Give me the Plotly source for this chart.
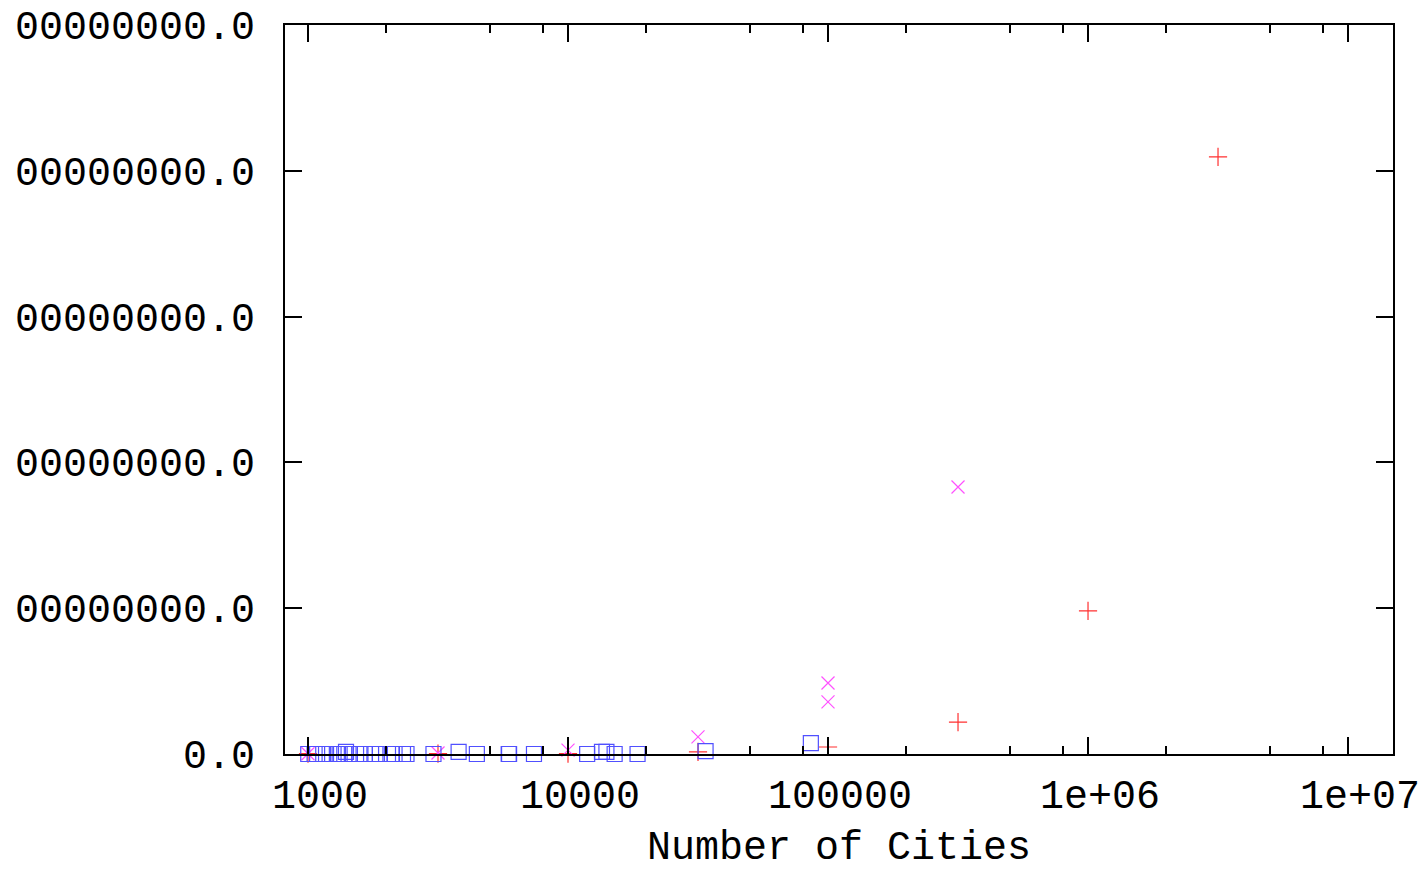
import plotly.graph_objects as go

# ---- data ----
# red "+" series
red_x = [1000, 3162, 10000, 31623, 100000, 316228, 1000000, 3162278]
red_y = [0.2, 0.3, 0.3, 1.4, 4.8, 21.9, 98.1, 409.5]

# magenta "x" series
mag_x = [1000, 3162, 10000, 31623, 100000, 100000, 316228]
mag_y = [0.2, 0.7, 2.7, 11.7, 35.7, 48.7, 183.1]

# blue squares (TSPLIB-like instances)
blue_x = [1002, 1060, 1084, 1173, 1291, 1304, 1323, 1379, 1400, 1432, 1577, 1655,
          1748, 1817, 1889, 2103, 2152, 2319, 2392, 3038, 3795, 4461, 5915, 5934,
          7397, 11849, 13509, 14051, 15112, 18512, 33810, 85900]
blue_y = [0.0, 0.0, 0.0, 0.0, 0.0, 0.0, 0.0, 0.0, 1.5, 0.0, 0.0, 0.0,
          0.0, 0.0, 0.0, 0.0, 0.0, 0.0, 0.0, 0.0, 1.4, 0.0, 0.0, 0.0,
          0.0, 0.0, 1.4, 1.4, 0.0, 0.0, 2.0, 7.5]

x_major = [1e3, 1e4, 1e5, 1e6, 1e7]
x_major_text = ["1000", "10000", "100000", "1e+06", "1e+07"]
x_minor = [m * 10 ** k for k in range(2, 8) for m in (2, 5, 8)]
y_ticks = [0, 100, 200, 300, 400, 500]
y_tick_text = ["0.0", "00000000.0", "00000000.0", "00000000.0", "00000000.0", "00000000.0"]
x_title = "Number of Cities"

FONT = "Liberation Mono"
NB = "\u00a0"
RED, MAG, BLUE = "#ff3030", "#ff50ff", "#5050ff"

fig = go.Figure()
fig.add_trace(go.Scatter(x=red_x, y=red_y, mode="markers", cliponaxis=False,
                         marker=dict(symbol="cross-thin-open", size=13, color=RED,
                                     line=dict(color=RED, width=1.2))))
fig.add_trace(go.Scatter(x=mag_x, y=mag_y, mode="markers", cliponaxis=False,
                         marker=dict(symbol="x-thin-open", size=13, color=MAG,
                                     line=dict(color=MAG, width=1.2))))
fig.add_trace(go.Scatter(x=blue_x, y=blue_y, mode="markers", cliponaxis=False,
                         marker=dict(symbol="square-open", size=15, color=BLUE,
                                     line=dict(color=BLUE, width=1.2))))

fig.update_layout(
    width=1419, height=870,
    margin=dict(l=285, r=26, t=25, b=116),
    paper_bgcolor="white", plot_bgcolor="white",
    showlegend=False,
    font=dict(family=FONT, size=40, color="black"),
    xaxis=dict(
        type="log", range=[2.9115, 7.173], automargin=False,
        tickmode="array", tickvals=x_major,
        ticktext=[NB + t for t in x_major_text],
        ticks="inside", ticklen=17, tickwidth=2, tickcolor="black",
        showline=True, linecolor="black", linewidth=2, mirror="allticks",
        showgrid=False, zeroline=False, ticklabeloverflow="allow",
        minor=dict(tickmode="array", tickvals=x_minor, ticks="inside",
                   ticklen=8, tickwidth=2, tickcolor="black", showgrid=False),
        tickfont=dict(family=FONT, size=40, color="black"),
        ticklabelstandoff=4,
    ),
    yaxis=dict(
        range=[0, 500], automargin=False,
        tickmode="array", tickvals=y_ticks, ticktext=y_tick_text,
        ticks="inside", ticklen=17, tickwidth=2, tickcolor="black",
        showline=True, linecolor="black", linewidth=2, mirror="allticks",
        showgrid=False, zeroline=False, ticklabeloverflow="allow",
        tickfont=dict(family=FONT, size=40, color="black"),
        ticklabelstandoff=20,
    ),
    annotations=[dict(
        text=x_title, xref="paper", yref="paper", x=0.5, y=-95 / 729,
        xanchor="center", yanchor="middle", showarrow=False,
        font=dict(family=FONT, size=40, color="black"),
    )],
)

fig.write_html("out.html")
